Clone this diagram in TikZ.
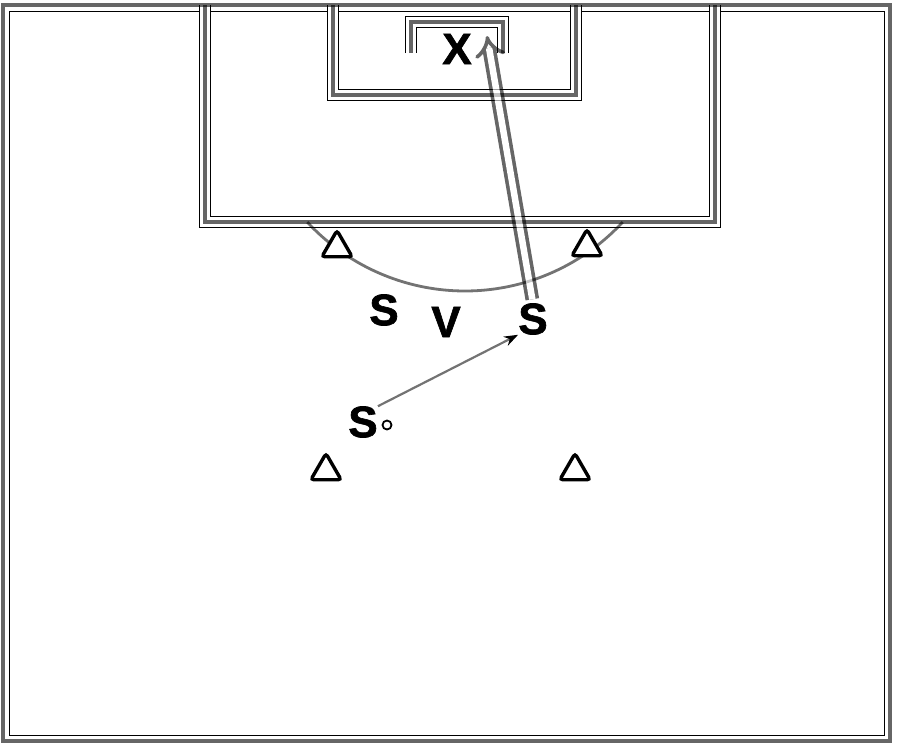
\documentclass[tikz,border=0pt]{standalone}
\usepackage{fontspec}
\setmainfont{Liberation Sans}
\newfontfamily\playerfont[FakeBold=1.5]{Liberation Sans Bold}
\usetikzlibrary{arrows.meta,shapes.geometric}

\tikzset{
  halo/.style={draw=black, line width=0.9pt, double=white, double distance=10pt},
  pitchline/.style={draw=black, draw opacity=0.6, line width=4pt},
  arcline/.style={draw=black, draw opacity=0.55, line width=2.8pt},
  cone/.style={regular polygon, regular polygon sides=3, draw, fill=white,
    line width=3.4pt, rounded corners=3pt, minimum size=35pt, inner sep=0pt},
  player/.style={font=\fontsize{44}{44}\playerfont, inner sep=0pt},
  pass/.style={draw=black!55, line width=2.2pt,
    -{Stealth[length=14pt,width=10pt,color=black]}},
  shot/.style={draw=black, line width=3.6pt, double=white, double distance=6.5pt,
    -{Implies[length=14pt,width=26pt]}, shorten <=4pt},
}

% penalty box, goal area and goal, drawn twice: halo first, then the line
\newcommand\pitchmarks[1]{%
  \draw[#1] (205,5) -- (205,222) -- (715,222) -- (715,5);
  \draw[#1] (333,5) -- (333,95) -- (576,95) -- (576,5);
  \draw[#1] (411,53) -- (411,22) -- (503,22) -- (503,53);
}

\begin{document}
\begin{tikzpicture}[x=1pt,y=-1pt]
  \useasboundingbox (0,0) rectangle (900,747);
  % halo lines
  \draw[line width=0.9pt] (9.5,11) rectangle (884,735);
  \pitchmarks{halo}
  % pitch
  \draw[pitchline] (3,5) rectangle (890,741);
  \pitchmarks{pitchline}
  \draw[arcline] (465,76) ++(137.2:215) arc[start angle=137.2, end angle=42.8, radius=215];
  % cones
  \node[cone] (coneA) at (337,248) {};
  \node[cone] (coneB) at (587,247) {};
  \node[cone] (coneC) at (326,471) {};
  \node[cone] (coneD) at (575,471) {};
  % players
  \node[player] (X) at (457,49) {X};
  \node[player] (S1) at (384,310) {S};
  \node[player] (V) at (446,322) {V};
  \node[player] (S2) at (533,319) {S};
  \node[player] (S3) at (363,422) {S};
  \node[circle, draw, line width=1.8pt, fill=white, minimum size=9pt, inner sep=0pt] (ball) at (387,425) {};
  % pass and shot
  \draw[pass] (S3.north east) -- (S2.south west);
  \coordinate (shotto) at (487,36);
  \begin{scope}[transparency group, opacity=0.6]
    \draw[shot] (S2.north) -- (shotto);
  \end{scope}
\end{tikzpicture}
\end{document}
